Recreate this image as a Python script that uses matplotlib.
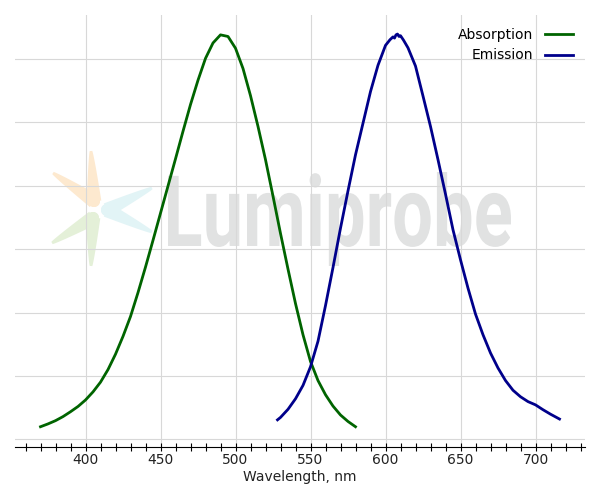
import numpy as np
import matplotlib
matplotlib.use("Agg")
import matplotlib.pyplot as plt
from matplotlib.patches import PathPatch, Polygon, Circle
from matplotlib.textpath import TextPath
from matplotlib.font_manager import FontProperties
from matplotlib.transforms import Affine2D

# absorption spectrum (normalised)
abs_nm = [370, 375, 380, 385, 390, 395, 400, 405, 410, 415, 420, 425, 430, 435,
          440, 445, 450, 455, 460, 465, 470, 475, 480, 485, 490, 495, 500, 505,
          510, 515, 520, 525, 530, 535, 540, 545, 550, 555, 560, 565, 570, 575, 580]
abs_val = [0.031, 0.038, 0.046, 0.056, 0.068, 0.081, 0.097, 0.117, 0.141, 0.172,
           0.210, 0.254, 0.303, 0.362, 0.425, 0.491, 0.558, 0.625, 0.692, 0.760,
           0.826, 0.886, 0.940, 0.978, 0.998, 0.994, 0.965, 0.915, 0.848, 0.772,
           0.690, 0.600, 0.508, 0.420, 0.335, 0.258, 0.192, 0.145, 0.110, 0.082,
           0.060, 0.044, 0.031]

# emission spectrum (normalised)
em_nm = [528, 530, 535, 540, 545, 550, 555, 560, 565, 570, 575, 580, 585, 590,
         595, 600, 603, 605, 606, 607, 608, 609, 610, 612, 615, 620, 625, 630,
         635, 640, 645, 650, 655, 660, 665, 670, 675, 680, 685, 690, 695, 700,
         705, 710, 716]
em_val = [0.048, 0.054, 0.074, 0.100, 0.133, 0.179, 0.242, 0.330, 0.424, 0.521,
          0.613, 0.702, 0.780, 0.858, 0.923, 0.972, 0.986, 0.993, 0.990, 0.998,
          1.000, 0.994, 0.996, 0.985, 0.966, 0.921, 0.847, 0.772, 0.690, 0.605,
          0.517, 0.443, 0.373, 0.309, 0.258, 0.213, 0.176, 0.145, 0.121, 0.105,
          0.093, 0.085, 0.073, 0.062, 0.050]

xticks = [400, 450, 500, 550, 600, 650, 700]
grid_step = 0.1564

fig = plt.figure(figsize=(6, 5), dpi=100)
ax = fig.add_axes([0.025, 0.106, 0.95, 0.864])

# pixel -> figure transform for the watermark logo
px = Affine2D().scale(1 / 600, -1 / 500).translate(0, 1) + fig.transFigure


def arm(corner, tip, w0, color):
    c = np.array(corner, float)
    t_ = np.array(tip, float)
    d = t_ - c
    n = np.array([-d[1], d[0]]) / np.hypot(*d)
    ts = np.linspace(0, 1, 40)
    hw = w0 * (1 - ts) ** 0.8 + 1.3
    centre = c + ts[:, None] * d
    left = centre + n * hw[:, None]
    right = centre - n * hw[:, None]
    pts = np.vstack([left, right[::-1]])
    ax.add_patch(Polygon(pts, closed=True, fc=color, ec="none",
                         transform=px, zorder=0))
    ax.add_patch(Circle(corner, w0, fc=color, ec="none", transform=px, zorder=0))


orange, green, cyan = "#fde9cf", "#e4f0d8", "#e2f4f6"
arm((94, 201), (91, 151), 6.0, orange)
arm((94, 201), (53, 173), 6.0, orange)
arm((93, 218), (91, 266), 6.0, green)
arm((93, 218), (52, 243), 6.0, green)
arm((107, 210), (152, 188), 6.0, cyan)
arm((107, 210), (152, 232), 6.0, cyan)

# "Lumiprobe" text fitted into its box
tp = TextPath((0, 0), "Lumiprobe", size=1,
              prop=FontProperties(family=["Roboto", "DejaVu Sans"], weight="bold"))
bb = tp.get_extents()
x0, x1, y0, y1 = 168, 511, 172, 266
tr = (Affine2D().translate(-bb.x0, -bb.y1)
      .scale((x1 - x0) / bb.width, (y1 - y0) / bb.height)
      .translate(x0, -y0)
      .scale(1, -1)) + px
ax.add_patch(PathPatch(tp, fc="#e1e2e2", ec="none", transform=tr, zorder=0))

ax.plot(abs_nm, abs_val, color="#006400", lw=2, label="Absorption", zorder=3)
ax.plot(em_nm, em_val, color="#00008b", lw=2, label="Emission", zorder=3)

ax.set_xlim(353, 733)
ax.set_ylim(-0.019, 1.047)
ax.set_xticks(xticks)
ax.set_xticks(np.arange(360, 731, 10), minor=True)
ax.set_yticks(np.arange(7) * grid_step)
ax.tick_params(axis="y", left=False, labelleft=False)
ax.tick_params(axis="x", which="both", direction="inout", length=6, width=0.8,
               labelsize=10, labelcolor="#222222", pad=1.5)
ax.set_axisbelow(True)
ax.grid(True, color="#d8d8d8", lw=0.8)
for s in ("top", "right", "left"):
    ax.spines[s].set_visible(False)
ax.spines["bottom"].set_linewidth(0.8)
ax.set_xlabel("Wavelength, nm", fontsize=10, color="#222222", labelpad=2)

ax.legend(loc="upper right", frameon=False, markerfirst=False, fontsize=10,
          handlelength=2.0, labelspacing=0.5, borderaxespad=0.5)

fig.savefig("out.png", dpi=100)
